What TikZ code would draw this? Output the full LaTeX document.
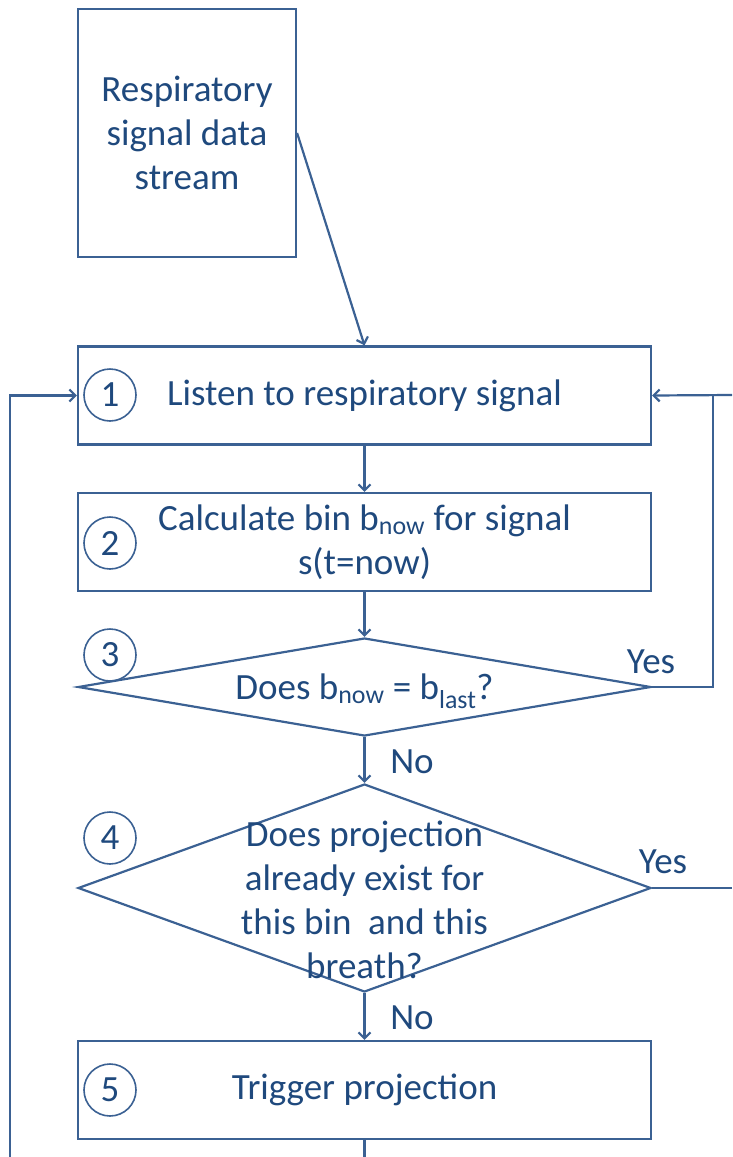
\documentclass[tikz,border=0pt]{standalone}
\usepackage{fontspec}
\setmainfont{Carlito}
\usepackage{xcolor}
\usepackage{tikz}
\usetikzlibrary{shapes.geometric,arrows.meta}
\definecolor{linecol}{HTML}{3B6193}
\definecolor{textcol}{HTML}{1F497D}

\begin{document}
\begin{tikzpicture}[x=1pt, y=-1pt, line width=2.2pt,
  every node/.style={text=textcol, font=\fontsize{37}{44}\selectfont},
  box/.style={draw=linecol, rectangle, minimum width=573pt, minimum height=98pt, inner sep=0pt, align=center},
  decbox/.style={draw=linecol, diamond, minimum width=573pt, inner sep=0pt},
  num/.style={draw=linecol, circle, line width=1.6pt, minimum size=52pt, inner sep=0pt},
  ln/.style={draw=linecol},
  arr/.style={draw=linecol, -{Straight Barb[length=6pt,width=12pt]}}]
\useasboundingbox (0,0) rectangle (732,1157);

% boxes
\node[box, minimum width=218pt, minimum height=248pt] (src) at (187,133) {Respiratory\\ signal data\\ stream};
\node[box] (s1) at (364.5,395.5) {Listen to respiratory signal};
\node[box] (s2) at (364.5,542) {Calculate bin b\textsubscript{now} for signal\\ s(t=now)};
\node[decbox, minimum height=98pt] (q3) at (364.5,687) {};
\node at (364.5,691) (txt3) {Does b\textsubscript{now} = b\textsubscript{last}?};
\node[decbox, minimum height=208pt] (q4) at (364.5,888) {};
\node[align=center] at (364.5,900) (txt4) {Does projection\\ already exist for\\ this bin\ \ and this\\ breath?};
\node[box] (s5) at (364.5,1090) {Trigger projection};

% step numbers
\node[num] (n1) at (110,395) {1};
\node[num] (n2) at (110,543) {2};
\node[num] (n3) at (110,655) {3};
\node[num] (n4) at (110,838) {4};
\node[num] (n5) at (110,1090) {5};

% labels
\node (yes3) at (651,662) {Yes};
\node (no3) at (412,762) {No};
\node (yes4) at (663,862) {Yes};
\node (no4) at (412,1018) {No};

% loose ends
\coordinate (j1) at (713,395);
\coordinate (edgeT) at (732,395);
\coordinate (edgeR) at (732,888);
\coordinate (edgeL) at (10,1157);
\coordinate (edgeB) at (364.5,1157);

\draw[arr] (src.east) -- (s1.north);
\draw[arr] (s1.south) -- (s2.north);
\draw[arr] (s2.south) -- (q3.north);
\draw[arr] (q3.south) -- (q4.north);
\draw[arr] (q4.south) -- (s5.north);
\draw[ln] (q3.east) -| (j1);
\draw[arr] (edgeT) -- (s1.east);
\draw[ln] (q4.east) -- (edgeR);
\draw[arr] (edgeL) |- (s1.west);
\draw[ln] (s5.south) -- (edgeB);
\end{tikzpicture}
\end{document}
